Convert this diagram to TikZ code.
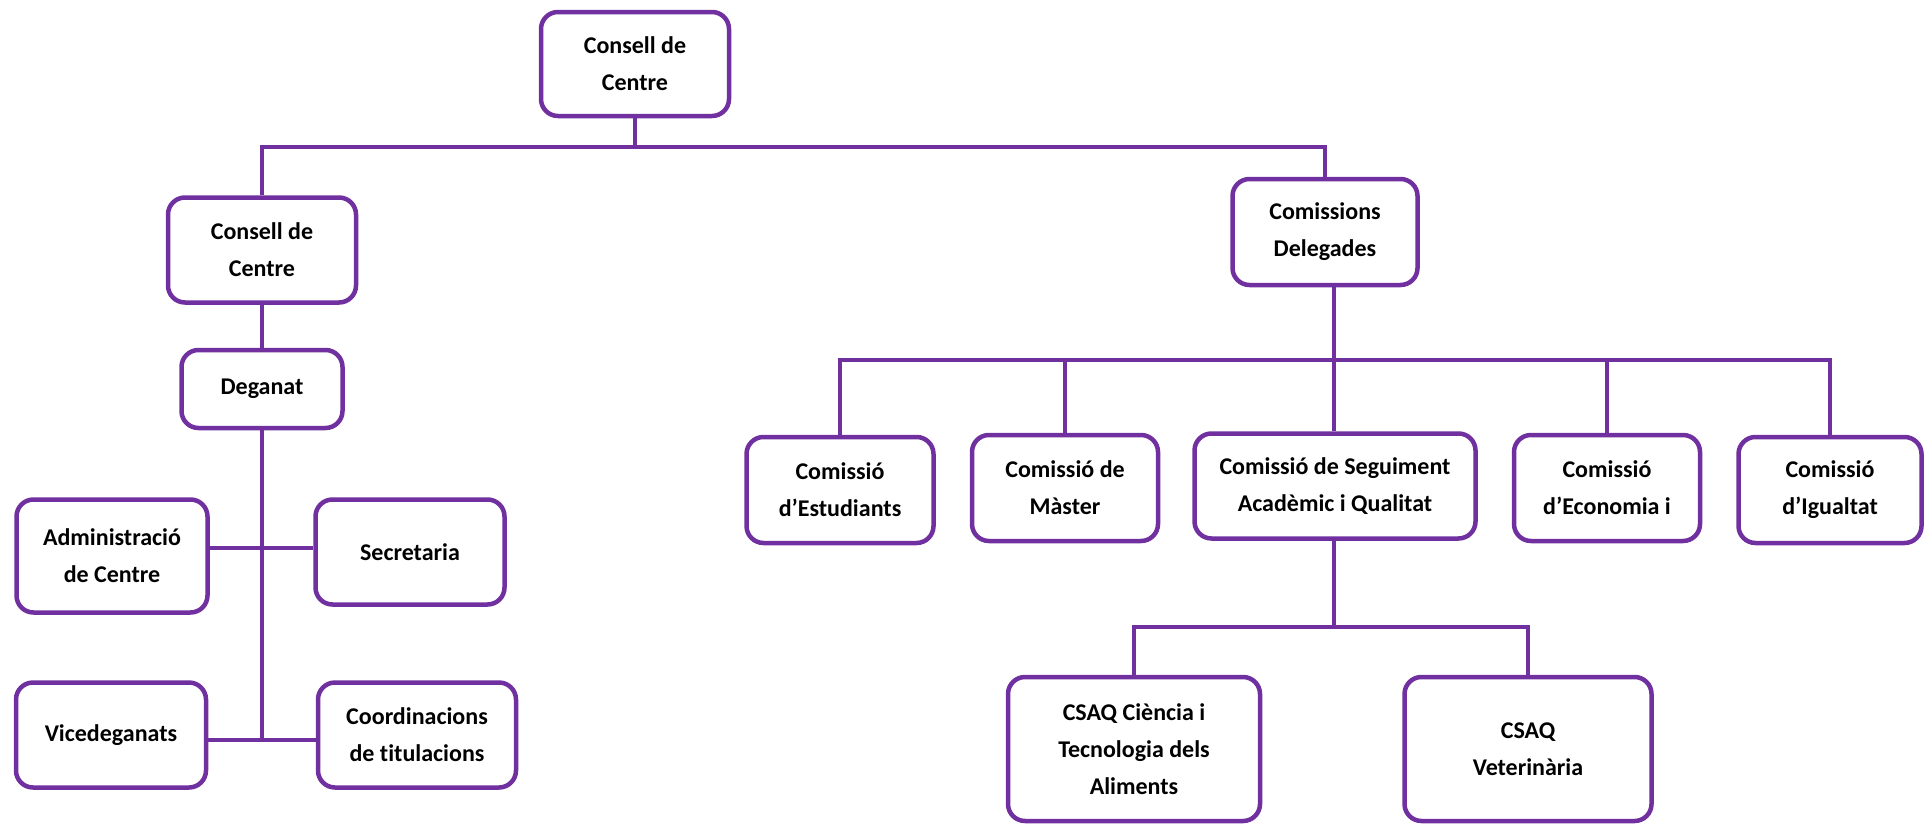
\documentclass[tikz,border=0pt]{standalone}
\usepackage{fontspec}
\setmainfont{Carlito}[Ligatures={NoCommon}]
\definecolor{pur}{HTML}{7030A0}
\begin{document}
\begin{tikzpicture}[x=1pt,y=-1pt,
  box/.style={draw=pur, line width=4.5pt, rounded corners=17pt, fill=white,
    align=center, inner sep=0pt, font=\fontsize{24}{37}\selectfont\bfseries},
  link/.style={draw=pur, line width=4.5pt}]
\useasboundingbox (0,0) rectangle (1926,827);
% nodes
\node[box, minimum width=188, minimum height=104] (top) at (635,64) {Consell de\\Centre};
\node[box, minimum width=188, minimum height=105] (ccl) at (262,250) {Consell de\\Centre};
\node[box, minimum width=161, minimum height=78] (deg) at (262,389) {Deganat};
\node[box, minimum width=191, minimum height=113] (adm) at (112,556) {Administració\\de Centre};
\node[box, minimum width=189, minimum height=105] (sec) at (410,552) {Secretaria};
\node[box, minimum width=190, minimum height=105] (vic) at (111,735) {Vicedeganats};
\node[box, minimum width=198, minimum height=105] (coo) at (417,735) {Coordinacions\\de titulacions};
\node[box, minimum width=185, minimum height=106] (cd) at (1325,232) {Comissions\\Delegades};
\node[box, minimum width=187, minimum height=106] (est) at (840,490) {Comissió\\d’Estudiants};
\node[box, minimum width=186, minimum height=106] (mas) at (1065,488) {Comissió de\\Màster};
\node[box, minimum width=281, minimum height=105] (seg) at (1335,486) {Comissió de Seguiment\\Acadèmic i Qualitat};
\node[box, minimum width=186, minimum height=106] (eco) at (1607,488) {Comissió\\d’Economia i};
\node[box, minimum width=183, minimum height=106] (igu) at (1830,490) {Comissió\\d’Igualtat};
\node[box, minimum width=252, minimum height=144] (cta) at (1134,749) {CSAQ Ciència i\\Tecnologia dels\\Aliments};
\node[box, minimum width=247, minimum height=144] (vet) at (1528,749) {CSAQ\\Veterinària};
% bus coordinates
\coordinate (b1) at (635,147);
\coordinate (b2) at (1334,360);
\coordinate (b3) at (1334,627);
\coordinate (h1) at (262,548);
\coordinate (h2) at (262,740);
% connectors
\draw[link] (top.south) -- (b1);
\draw[link] (ccl.north) |- (b1) -| (cd.north);
\draw[link] (ccl.south) -- (deg.north);
\draw[link] (deg.south) -- (h2);
\draw[link] (adm.east |- h1) -- (sec.west |- h1);
\draw[link] (vic.east |- h2) -- (coo.west |- h2);
\draw[link] (cd.south -| b2) -- (b2);
\draw[link] (est.north) |- (b2) -| (igu.north);
\draw[link] (mas.north) -- (mas.north |- b2);
\draw[link] (seg.north -| b2) -- (b2);
\draw[link] (eco.north) -- (eco.north |- b2);
\draw[link] (seg.south -| b3) -- (b3);
\draw[link] (cta.north) |- (b3) -| (vet.north);
\end{tikzpicture}
\end{document}
